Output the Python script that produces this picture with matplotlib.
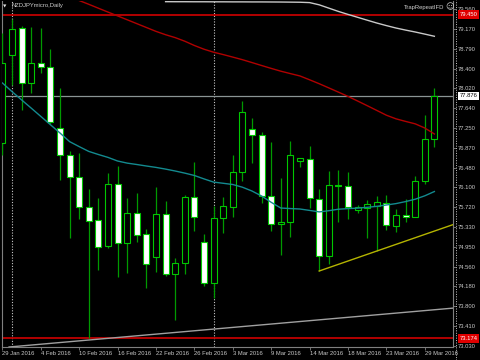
import numpy as np
import matplotlib
matplotlib.use("Agg")
import matplotlib.pyplot as plt
from matplotlib.lines import Line2D

plt.rcParams['font.family'] = ['Liberation Sans', 'DejaVu Sans']

# ---------- data: NZDJPYmicro, Daily (29 Jan 2016 .. 30 Mar 2016) ----------
date_labels = ["29 Jan 2016", "4 Feb 2016", "10 Feb 2016", "16 Feb 2016",
               "22 Feb 2016", "26 Feb 2016", "3 Mar 2016", "9 Mar 2016",
               "14 Mar 2016", "18 Mar 2016", "23 Mar 2016", "29 Mar 2016"]
label_bars = [0, 4, 8, 12, 16, 20, 24, 28, 32, 36, 40, 44]
month_starts = [1, 22]

opens = [76.961, 78.668, 79.192, 78.125, 78.513, 78.435, 77.252, 76.728, 76.302, 75.720,
         75.468, 74.963, 76.166, 75.022, 75.603, 75.196, 74.750, 75.584, 74.420, 74.634,
         75.914, 75.041, 74.246, 75.507, 75.720, 76.399, 77.233, 77.116, 75.933, 75.390,
         75.429, 76.612, 76.651, 75.875, 74.769, 76.147, 76.127, 75.662, 75.700, 75.739,
         75.797, 75.351, 75.565, 75.526, 76.224, 77.039]
highs = [79.095, 79.366, 79.230, 79.211, 79.192, 78.784, 78.028, 76.806, 76.767, 76.069,
         75.894, 76.379, 76.515, 75.894, 75.991, 75.293, 76.108, 75.836, 74.731, 75.953,
         76.593, 75.196, 75.739, 75.914, 76.728, 77.776, 77.446, 77.174, 76.980, 76.282,
         77.000, 76.670, 76.903, 76.069, 76.418, 76.437, 76.399, 75.759, 75.856, 75.933,
         75.953, 75.681, 75.875, 76.321, 77.504, 78.028]
lows = [76.728, 78.086, 77.601, 77.931, 78.319, 77.330, 76.243, 75.119, 75.487, 73.174,
        74.498, 74.925, 74.362, 74.440, 75.041, 74.149, 74.459, 74.382, 73.528, 74.420,
        75.254, 74.188, 73.955, 75.216, 75.526, 76.224, 76.573, 75.797, 75.254, 74.789,
        75.138, 76.496, 75.700, 74.479, 74.614, 75.429, 75.487, 75.603, 75.119, 74.866,
        75.274, 75.235, 75.429, 75.526, 76.166, 76.884]
closes = [78.513, 79.172, 78.125, 78.513, 78.435, 77.368, 76.728, 76.302, 75.720, 75.448,
          74.944, 76.166, 75.022, 75.603, 75.177, 74.614, 75.584, 74.420, 74.634, 75.914,
          75.526, 74.246, 75.507, 75.739, 76.399, 77.562, 77.116, 75.933, 75.390, 75.429,
          76.728, 76.670, 75.894, 74.769, 76.147, 76.127, 75.720, 75.720, 75.778, 75.817,
          75.371, 75.565, 75.526, 76.224, 77.039, 77.876]

# moving averages
teal_ma = [78.125, 77.958, 77.797, 77.638, 77.477, 77.316, 77.155, 76.988, 76.891, 76.798,
           76.738, 76.682, 76.612, 76.571, 76.544, 76.515, 76.488, 76.455, 76.418, 76.377,
           76.331, 76.265, 76.203, 76.180, 76.156, 76.104, 76.030, 75.933, 75.811, 75.700,
           75.690, 75.681, 75.654, 75.625, 75.648, 75.677, 75.689, 75.698, 75.714, 75.733,
           75.759, 75.786, 75.825, 75.871, 75.937, 76.020]
red_ma_start = 7
red_ma = [79.800, 79.724, 79.651, 79.575, 79.500, 79.426, 79.351, 79.276, 79.201, 79.126,
          79.061, 79.005, 78.935, 78.852, 78.780, 78.722, 78.676, 78.627, 78.577, 78.521,
          78.464, 78.408, 78.354, 78.307, 78.261, 78.187, 78.111, 78.030, 77.948, 77.865,
          77.776, 77.685, 77.593, 77.500, 77.430, 77.380, 77.333, 77.252, 77.136]
grey_ma_start = 17
grey_ma = [79.702, 79.701, 79.701, 79.700, 79.700, 79.699, 79.699, 79.698, 79.698, 79.697,
           79.697, 79.696, 79.695, 79.693, 79.691, 79.684, 79.641, 79.577, 79.513, 79.455,
           79.399, 79.343, 79.288, 79.238, 79.191, 79.151, 79.114, 79.073, 79.031]

# levels and trendlines
resistance = 79.450
support = 73.174
bid = 77.876
yellow_pts = [(33, 74.479), (39, 74.866)]
grey_pts = [(1, 73.010), (47, 73.760)]

price_ticks = [79.560, 79.170, 78.790, 78.400, 78.020, 77.640, 77.250, 76.870, 76.480,
               76.100, 75.720, 75.330, 74.950, 74.560, 74.180, 73.800, 73.410, 73.030]

# ---------- plotting ----------
opens, highs, lows, closes = map(np.array, (opens, highs, lows, closes))
x = np.arange(len(opens))

fig = plt.figure(figsize=(4.8, 3.6), dpi=100, facecolor="black")
ax = fig.add_axes([2 / 480, 13 / 360, 451 / 480, 346 / 360], facecolor="black")
ax.set_xlim(-0.042, 46.94)
ax.set_ylim(73.005, 79.715)

# month separators
for s in month_starts:
    ax.axvline(s, color="#c8c8c8", lw=0.8, ls=(0, (1, 1.5)), zorder=1)

ax.axhline(resistance, color="#c00000", lw=1.3, zorder=2)
ax.axhline(support, color="#c00000", lw=1.3, zorder=2)
ax.axhline(bid, color="#8a9494", lw=0.9, zorder=2)

# candles
ax.vlines(x, lows, highs, color="#009a00", lw=0.9, zorder=3)
bull = closes >= opens
ax.bar(x, np.abs(closes - opens), bottom=np.minimum(opens, closes), width=0.62,
       color=np.where(bull, "black", "white"), edgecolor="#00c800", linewidth=0.8, zorder=4)

# indicators
ax.plot(x, teal_ma, color="#138a8f", lw=1.0, zorder=5)
ax.plot(np.arange(len(red_ma)) + red_ma_start, red_ma, color="#b00000", lw=1.0, zorder=5)
ax.plot(np.arange(len(grey_ma)) + grey_ma_start, grey_ma, color="#c8c8c8", lw=1.0, zorder=5)

(x1, p1), (x2, p2) = yellow_pts
slope = (p2 - p1) / (x2 - x1)
x_end = ax.get_xlim()[1]
ax.plot([x1, x_end], [p1, p1 + slope * (x_end - x1)], color="#b4b400", lw=1.0, zorder=5)
ax.axline(grey_pts[0], grey_pts[1], color="#a0a0a0", lw=1.0, zorder=5)

# axes styling
ax.spines["top"].set_visible(False)
for side in ["left", "bottom", "right"]:
    ax.spines[side].set_color("#808080")
    ax.spines[side].set_linewidth(0.8)

ax.yaxis.tick_right()
ax.set_yticks(price_ticks)
ax.set_yticklabels([f"{v:.3f}" for v in price_ticks])
ax.set_xticks(label_bars)
ax.set_xticklabels(date_labels, ha="left")
ax.tick_params(axis="both", colors="#808080", labelcolor="#c8c8c8",
               length=2.2, width=0.6, pad=1, labelsize=4.2)

fig.add_artist(Line2D([456 / 480] * 2, [0, 1], transform=fig.transFigure,
                      color="#c8c8c8", lw=0.7, ls=(0, (1, 1.5))))

# highlighted price labels
for val, fc, tc in [(resistance, "#e00000", "white"), (bid, "white", "black"),
                    (support, "#e00000", "white")]:
    ax.text(1.014, val, f"{val:.3f}", transform=ax.get_yaxis_transform(),
            fontsize=4.2, color=tc, va="center", ha="left", clip_on=False, zorder=10,
            bbox=dict(boxstyle="square,pad=0.3", fc=fc, ec="none"))

# header texts
fig.text(5 / 480, 1 - 6 / 360, "\u25bc", fontsize=3.2, color="#e0e0e0",
         va="center", ha="center", family="DejaVu Sans")
fig.text(11 / 480, 1 - 6 / 360, "NZDJPYmicro,Daily", fontsize=4.2, color="#d0d0d0",
         va="center", ha="left")
fig.text(444 / 480, 1 - 7 / 360, "TrapRepeatIFD", fontsize=4.2, color="#d0d0d0",
         va="center", ha="right")
fig.text(450 / 480, 1 - 7 / 360, "\u263a", fontsize=6, color="#d0d0d0",
         va="center", ha="center", family="DejaVu Sans")

fig.savefig("out.png", dpi=100, facecolor="black")
